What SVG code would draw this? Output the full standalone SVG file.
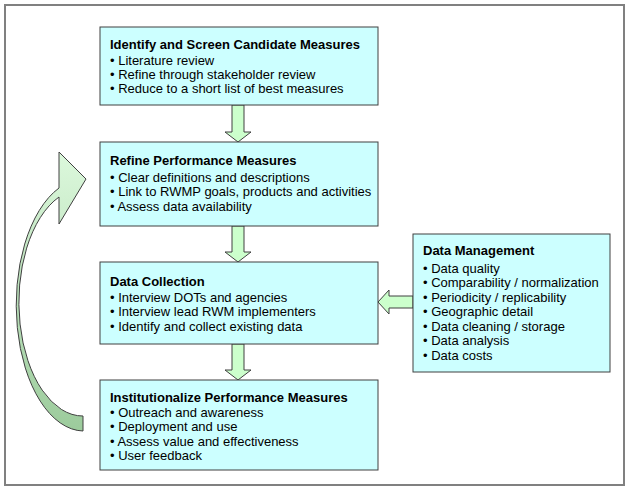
<svg xmlns="http://www.w3.org/2000/svg" width="632" height="495" viewBox="0 0 632 495">
<style>
.box{fill:#ccffff;stroke:#404040;stroke-width:1}
.arr{fill:#ccffcc;stroke:#404040;stroke-width:1}
text{font-family:"Liberation Sans",Arial,sans-serif;font-size:13px;fill:#000}
.t{font-weight:bold}
</style>
<defs>
<linearGradient id="cg" x1="0" y1="0" x2="0" y2="1">
<stop offset="0" stop-color="#dcf8dc"/>
<stop offset="1" stop-color="#9ccb9c"/>
</linearGradient>
</defs>
<rect width="632" height="495" fill="#ffffff"/>
<rect x="5" y="5" width="619" height="480" fill="none" stroke="#808080" stroke-width="2"/>
<g id="connectors">
<path class="arr" d="M232,105 L244,105 L244,132 L251,132 L238,142 L225,132 L232,132 Z"/>
<path class="arr" d="M232,226 L244,226 L244,252 L251,252 L238,262 L225,252 L232,252 Z"/>
<path class="arr" d="M232,344 L244,344 L244,370 L251,370 L238,380 L225,370 L232,370 Z"/>
<path class="arr" d="M413,296 L389,296 L389,290 L378,302 L389,314 L389,308 L413,308 Z"/>
<path fill="url(#cg)" stroke="#404040" stroke-width="1" d="M59,152 L86,179 L59,224 L59,197 A64 113.6 0 0 0 83,416 L83,431 A68 126 0 0 1 59,188 Z"/>
</g>
<g id="n1">
<rect class="box" x="100" y="27" width="278" height="78"/>
<text class="t" x="110" y="49">Identify and Screen Candidate Measures</text>
<text x="110" y="64.5">• Literature review</text>
<text x="110" y="78.5">• Refine through stakeholder review</text>
<text x="110" y="92.5">• Reduce to a short list of best measures</text>
</g>
<g id="n2">
<rect class="box" x="100" y="142" width="278" height="84"/>
<text class="t" x="110" y="165">Refine Performance Measures</text>
<text x="110" y="181.5">• Clear definitions and descriptions</text>
<text x="110" y="196">• Link to RWMP goals, products and activities</text>
<text x="110" y="210.5">• Assess data availability</text>
</g>
<g id="n3">
<rect class="box" x="100" y="262" width="278" height="82"/>
<text class="t" x="110" y="286">Data Collection</text>
<text x="110" y="301.5">• Interview DOTs and agencies</text>
<text x="110" y="316">• Interview lead RWM implementers</text>
<text x="110" y="330.5">• Identify and collect existing data</text>
</g>
<g id="n4">
<rect class="box" x="100" y="380" width="278" height="90"/>
<text class="t" x="110" y="401.5">Institutionalize Performance Measures</text>
<text x="110" y="416.5">• Outreach and awareness</text>
<text x="110" y="431">• Deployment and use</text>
<text x="110" y="445.5">• Assess value and effectiveness</text>
<text x="110" y="460">• User feedback</text>
</g>
<g id="n5">
<rect class="box" x="413" y="234" width="197" height="138"/>
<text class="t" x="423" y="255">Data Management</text>
<text x="423" y="272.5">• Data quality</text>
<text x="423" y="287">• Comparability / normalization</text>
<text x="423" y="301.5">• Periodicity / replicability</text>
<text x="423" y="316">• Geographic detail</text>
<text x="423" y="330.5">• Data cleaning / storage</text>
<text x="423" y="345">• Data analysis</text>
<text x="423" y="359.5">• Data costs</text>
</g>
</svg>
